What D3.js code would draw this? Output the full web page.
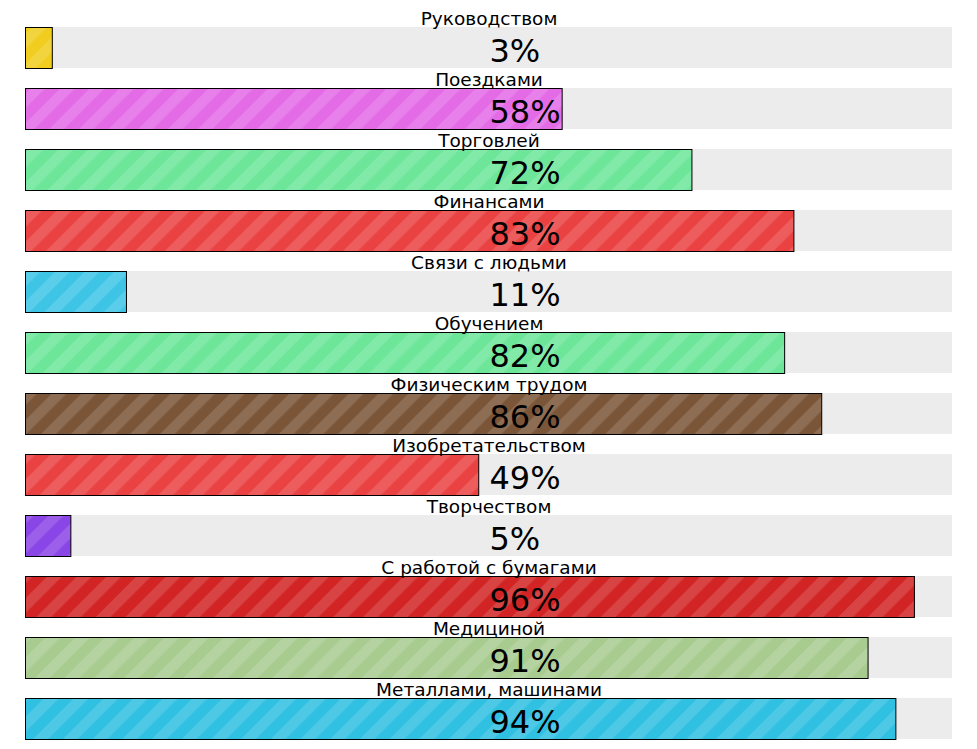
<!DOCTYPE html>
<html><head><meta charset="utf-8">
<script src="https://cdn.jsdelivr.net/npm/d3@7"></script>
<style>body{margin:0;background:#fff}svg{display:block}</style>
</head><body>
<script>
const categories = ["Руководством","Поездками","Торговлей","Финансами","Связи с людьми","Обучением","Физическим трудом","Изобретательством","Творчеством","С работой с бумагами","Медициной","Металлами, машинами"];
const values = [3,58,72,83,11,82,86,49,5,96,91,94];
const colors = ["#f0cd1e","#e36be6","#6de69a","#ea4242","#3ec5e6","#6de69a","#7a5538","#ea4242","#8a45e6","#d22424","#a8cc90","#30c0e2"];

const W = 977, H = 749;
const svg = d3.select("body").append("svg").attr("width", W).attr("height", H);

const defs = svg.append("defs");
const pat = defs.append("pattern").attr("id","stripes").attr("patternUnits","userSpaceOnUse")
  .attr("width",21).attr("height",21).attr("patternTransform","rotate(45)");
pat.append("rect").attr("x",0).attr("y",0).attr("width",10.5).attr("height",21).attr("fill","#fff").attr("fill-opacity",0.14);

const x = d3.scaleLinear().domain([0,100]).range([25,952]);
const y = d3.scaleBand().domain(categories).range([27,739]).paddingInner(20/61).paddingOuter(0);

const rows = svg.selectAll("g.row").data(categories.map((c,i)=>({c, v:values[i], col:colors[i]})))
  .enter().append("g").attr("class","row");

rows.append("rect").attr("x",x(0)).attr("y",d=>y(d.c)).attr("width",x(100)-x(0)).attr("height",y.bandwidth()).attr("fill","#ececec");
rows.append("rect").attr("x",x(0)+0.5).attr("y",d=>y(d.c)+0.5).attr("width",d=>x(d.v)-x(0)-1).attr("height",y.bandwidth()).attr("fill",d=>d.col);
rows.append("rect").attr("x",x(0)+0.5).attr("y",d=>y(d.c)+0.5).attr("width",d=>x(d.v)-x(0)-1).attr("height",y.bandwidth()).attr("fill","url(#stripes)")
  .attr("stroke","#000").attr("stroke-width",1);

const cx = (x(0)+x(100))/2;
rows.append("text").attr("x",cx+0.5).attr("y",d=>y(d.c)-2).attr("text-anchor","middle")
  .attr("font-family","DejaVu Sans").attr("font-size",18.5).attr("fill","#000").text(d=>d.c);
rows.append("text").attr("x",cx+1).attr("y",d=>y(d.c)+35).attr("text-anchor","start")
  .attr("font-family","DejaVu Sans").attr("font-size",32).attr("fill","#000").text(d=>d.v+"%");
</script>
</body></html>
